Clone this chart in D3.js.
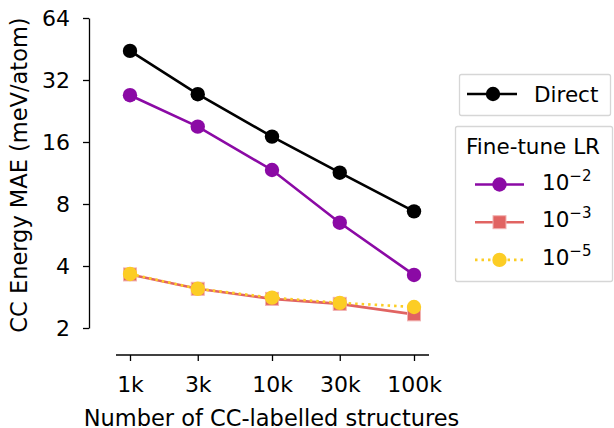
<!DOCTYPE html>
<html>
<head>
<meta charset="utf-8">
<script src="https://cdn.jsdelivr.net/npm/d3@7"></script>
<style>
  body { margin: 0; background: #fff; }
  text { font-family: "DejaVu Sans", sans-serif; fill: #000; }
</style>
</head>
<body>
<div id="chart"></div>
<script>
// data
const sizes = [1000, 3000, 10000, 30000, 100000];
const sizeLabels = ["1k", "3k", "10k", "30k", "100k"];
const yTicks = [2, 4, 8, 16, 32, 64];

const direct = [44.3, 27.3, 17.0, 11.35, 7.37];
const lr1e2 = [27.0, 19.0, 11.7, 6.49, 3.62];
const lr1e3 = [3.64, 3.10, 2.77, 2.62, 2.33];
const lr1e5 = [3.66, 3.10, 2.81, 2.65, 2.53];

const series = [
    { name: "Direct", values: direct, color: "#000000", marker: "circle", dash: null },
    { name: "-2", values: lr1e2, color: "#8b0aa5", marker: "circle", dash: null },
    { name: "-3", values: lr1e3, color: "#e16462", marker: "square", dash: null },
    { name: "-5", values: lr1e5, color: "#fccd25", marker: "circle", dash: "2.5,4" }
];

const width = 614, height = 428;
const svg = d3.select("#chart").append("svg")
    .attr("width", width)
    .attr("height", height);

// scales (log on both axes)
const x = d3.scaleLog().domain([1000, 100000]).range([130, 414]);
const y = d3.scaleLog().base(2).domain([2, 64]).range([328, 18]);

// x axis, spine offset below the plot
const xAxis = svg.append("g")
    .attr("transform", "translate(0,355)")
    .call(d3.axisBottom(x).tickValues(sizes).tickFormat((d, i) => sizeLabels[i]).tickSize(6).tickSizeOuter(0));
xAxis.select(".domain").attr("d", "M116,0H429");

// y axis
const yAxis = svg.append("g")
    .attr("transform", "translate(89,0)")
    .call(d3.axisLeft(y).tickValues(yTicks).tickFormat(d3.format("d")).tickSize(6).tickSizeOuter(0));

[xAxis, yAxis].forEach(g => {
    g.select(".domain").attr("stroke", "#000").attr("stroke-width", 1.3);
    g.selectAll(".tick line").attr("stroke", "#000").attr("stroke-width", 1.3);
    g.selectAll(".tick text").style("font-size", "22px").style("font-family", "DejaVu Sans");
});
xAxis.selectAll(".tick text").attr("dy", null).attr("y", 37);
yAxis.selectAll(".tick text").attr("x", -19).attr("dy", "0.36em");

// axis titles
svg.append("text")
    .attr("x", 271.5).attr("y", 426)
    .attr("text-anchor", "middle")
    .style("font-size", "22.5px")
    .text("Number of CC-labelled structures");

svg.append("text")
    .attr("transform", "translate(26.5,175) rotate(-90)")
    .attr("text-anchor", "middle")
    .style("font-size", "22.5px")
    .text("CC Energy MAE (meV/atom)");

// lines and markers
const line = d3.line()
    .x((d, i) => x(sizes[i]))
    .y(d => y(d));

function drawMarker(g, type, color, cx, cy) {
    if (type === "square") {
        g.append("rect")
            .attr("x", cx - 6.5).attr("y", cy - 6.5)
            .attr("width", 13).attr("height", 13)
            .attr("fill", color).attr("stroke", "#f2b3b2").attr("stroke-width", 1);
    } else {
        g.append("circle")
            .attr("cx", cx).attr("cy", cy).attr("r", 7.2)
            .attr("fill", color);
    }
}

series.forEach(s => {
    const g = svg.append("g");
    g.append("path")
        .datum(s.values)
        .attr("d", line)
        .attr("fill", "none")
        .attr("stroke", s.color)
        .attr("stroke-width", 2.6)
        .attr("stroke-dasharray", s.dash);
    s.values.forEach((v, i) => drawMarker(g, s.marker, s.color, x(sizes[i]), y(v)));
});

// legend: Direct
const leg1 = svg.append("g");
leg1.append("rect")
    .attr("x", 459.5).attr("y", 74.5).attr("width", 151).attr("height", 41)
    .attr("rx", 2).attr("fill", "#fff").attr("stroke", "#d6d6d6").attr("stroke-width", 1.3);
leg1.append("line")
    .attr("x1", 467).attr("x2", 517).attr("y1", 94).attr("y2", 94)
    .attr("stroke", "#000").attr("stroke-width", 2.6);
drawMarker(leg1, "circle", "#000", 493, 94);
leg1.append("text").attr("x", 534).attr("y", 102).style("font-size", "21.5px").text("Direct");

// legend: Fine-tune LR
const leg2 = svg.append("g");
leg2.append("rect")
    .attr("x", 455.5).attr("y", 126.5).attr("width", 157).attr("height", 155)
    .attr("rx", 2).attr("fill", "#fff").attr("stroke", "#d6d6d6").attr("stroke-width", 1.3);
leg2.append("text").attr("x", 466).attr("y", 154).style("font-size", "21.5px").text("Fine-tune LR");

series.slice(1).forEach((s, i) => {
    const cy = 184.5 + i * 37.7;
    leg2.append("line")
        .attr("x1", 475).attr("x2", 524).attr("y1", cy).attr("y2", cy)
        .attr("stroke", s.color).attr("stroke-width", 2.6)
        .attr("stroke-dasharray", s.dash);
    drawMarker(leg2, s.marker, s.color, 499.5, cy);
    const t = leg2.append("text").attr("x", 542).attr("y", cy + 5).style("font-size", "21.5px");
    t.append("tspan").text("10");
    t.append("tspan").attr("dy", -9).style("font-size", "15px").text("\u2212" + s.name.slice(1));
});
</script>
</body>
</html>
